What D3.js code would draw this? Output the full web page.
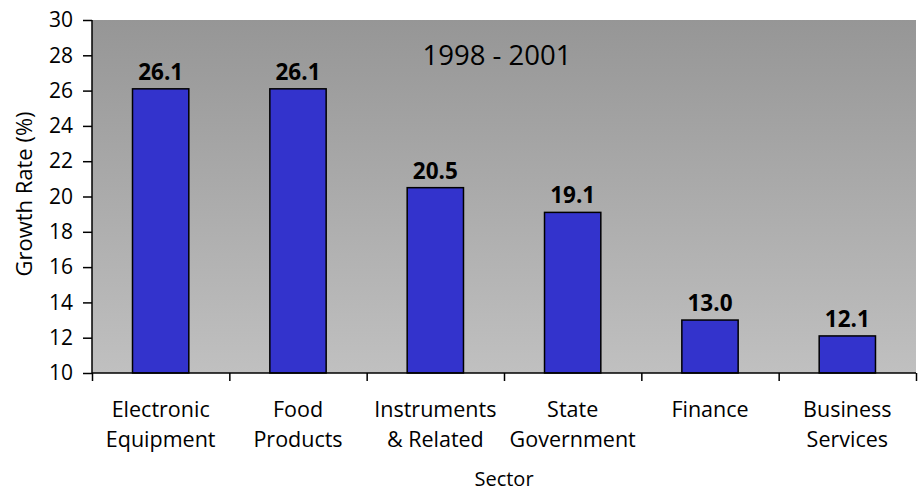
<!DOCTYPE html>
<html><head><meta charset="utf-8">
<script src="https://cdn.jsdelivr.net/npm/d3@7"></script>
<style>body{margin:0;background:#fff}svg{display:block}text{font-family:"Open Sans",sans-serif;fill:#000}</style>
</head><body><svg id="c" width="921" height="493"></svg>
<script>
const categories = [["Electronic","Equipment"],["Food","Products"],["Instruments","& Related"],["State","Government"],["Finance"],["Business","Services"]];
const values = [26.1, 26.1, 20.5, 19.1, 13.0, 12.1];
const yTicks = [10,12,14,16,18,20,22,24,26,28,30];
const title = "1998 - 2001";

const svg = d3.select("#c");
const L=92, R=916, T=20, B=373;
const x = d3.scaleBand().domain(d3.range(categories.length)).range([L,R]).paddingInner(0.59).paddingOuter(0.295);
const xb = d3.scaleLinear().domain([0,categories.length]).range([L,R]);
const y = d3.scaleLinear().domain([10,30]).range([B,T]);

const defs = svg.append("defs");
const g = defs.append("linearGradient").attr("id","bg").attr("x1",0).attr("y1",0).attr("x2",0).attr("y2",1);
g.append("stop").attr("offset","0%").attr("stop-color","#969696");
g.append("stop").attr("offset","100%").attr("stop-color","#c0c0c0");
svg.append("rect").attr("x",L).attr("y",T).attr("width",R-L).attr("height",B-T).attr("fill","url(#bg)");

svg.append("text").attr("x",497).attr("y",65).attr("text-anchor","middle").attr("font-size",27.5).text(title);

svg.selectAll("rect.bar").data(values).join("rect").attr("class","bar")
  .attr("x",(d,i)=>x(i)).attr("width",x.bandwidth())
  .attr("y",d=>y(d)).attr("height",d=>B-y(d))
  .attr("fill","#3333cc").attr("stroke","#000").attr("stroke-width",1.5);

svg.selectAll("text.val").data(values).join("text").attr("class","val")
  .attr("x",(d,i)=>x(i)+x.bandwidth()/2).attr("y",d=>y(d)-9)
  .attr("text-anchor","middle").attr("font-size",22.5).attr("font-weight","bold")
  .text(d=>d.toFixed(1));

// y axis
const ya = svg.append("g").attr("transform",`translate(${L},0)`)
  .call(d3.axisLeft(y).tickValues(yTicks).tickSize(9).tickPadding(10).tickFormat(d3.format("d")));
ya.select(".domain").attr("stroke","#000").attr("stroke-width",1.5).attr("d",`M0,${T}V${B}`);
ya.selectAll(".tick line").attr("stroke","#000").attr("stroke-width",1.5);
ya.selectAll(".tick text").attr("font-size",21).attr("font-family","Open Sans").attr("fill","#000");

// x axis
const xa = svg.append("g").attr("transform",`translate(0,${B})`)
  .call(d3.axisBottom(xb).tickValues(d3.range(categories.length+1)).tickSize(8).tickFormat(""));
xa.select(".domain").attr("stroke","#000").attr("stroke-width",1.5).attr("d",`M${L},0H${R}`);
xa.selectAll(".tick line").attr("stroke","#000").attr("stroke-width",1.5);

const cl = svg.selectAll("text.cat").data(categories).join("text").attr("class","cat")
  .attr("text-anchor","middle").attr("font-size",21.5)
  .attr("transform",(d,i)=>`translate(${x(i)+x.bandwidth()/2},417)`);
cl.selectAll("tspan").data(d=>d).join("tspan").attr("x",0).attr("dy",(d,j)=>j?30:0).text(d=>d);

svg.append("text").attr("x",504).attr("y",486).attr("text-anchor","middle").attr("font-size",20).text("Sector");
svg.append("text").attr("transform","translate(32,194) rotate(-90)").attr("text-anchor","middle").attr("font-size",22).text("Growth Rate (%)");
</script></body></html>
